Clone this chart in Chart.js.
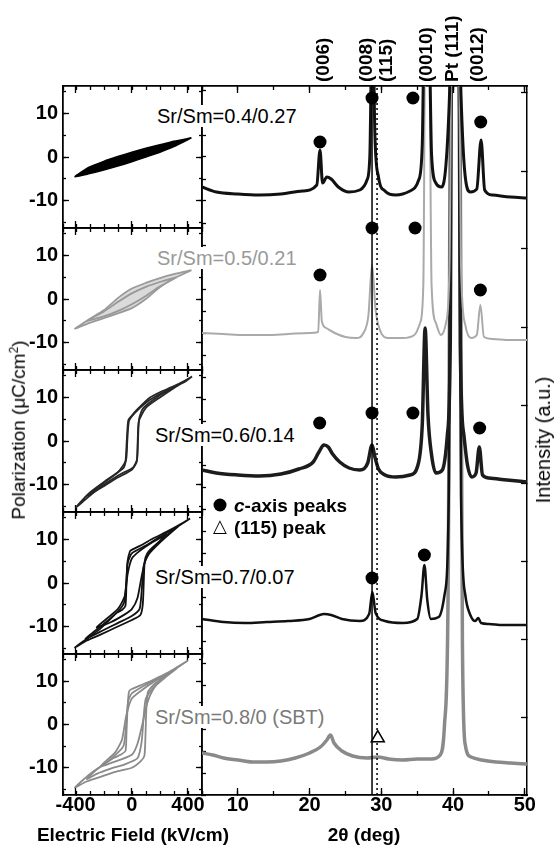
<!DOCTYPE html>
<html>
<head>
<meta charset="utf-8">
<title>Sr/Sm P-E loops and XRD patterns</title>
<script src="https://cdn.jsdelivr.net/npm/chart.js@4.4.1/dist/chart.umd.min.js"></script>
<style>
  html, body { margin: 0; padding: 0; background: #fff; }
  #fig { position: relative; width: 557px; height: 846px; overflow: hidden;
         font-family: "Liberation Sans", Arial, Helvetica, sans-serif; color: #000; }
  #fig canvas { position: absolute; left: 0; top: 0; }
  .t { position: absolute; white-space: nowrap; line-height: 1; }
  .c { transform: translate(-50%, -50%); }
  .vt { transform: translate(-50%, -50%) rotate(-90deg); }
  .lab { font-size: 20px; background: #fff; padding: 1px 2px 1px 0; transform: translateY(-50%); }
  .leg { font-size: 19px; font-weight: bold; transform: translateY(-50%); }
  .dot { position: absolute; width: 13px; height: 13px; border-radius: 50%; background: #000; transform: translate(-50%, -50%); }
</style>
</head>
<body>
<div id="fig">
  <canvas id="pe0" width="557" height="846"></canvas>
  <canvas id="pe1" width="557" height="846"></canvas>
  <canvas id="pe2" width="557" height="846"></canvas>
  <canvas id="pe3" width="557" height="846"></canvas>
  <canvas id="pe4" width="557" height="846"></canvas>
  <canvas id="xrd" width="557" height="846"></canvas>

  <div class="t vt" style="left:18px;top:430px;font-size:19px;">Polarization (μC/cm<sup style="font-size:12px;">2</sup>)</div>
  <div class="t vt" style="left:543px;top:440px;font-size:20px;">Intensity (a.u.)</div>
  <div class="t c" style="left:133px;top:834px;font-size:19px;font-weight:bold;">Electric Field (kV/cm)</div>
  <div class="t c" style="left:364px;top:834px;font-size:19px;font-weight:bold;">2θ (deg)</div>

  <div class="t lab" style="left:157px;top:116px;color:#000;">Sr/Sm=0.4/0.27</div>
  <div class="t lab" style="left:157px;top:258px;color:#9a9a9a;">Sr/Sm=0.5/0.21</div>
  <div class="t lab" style="left:155px;top:435px;color:#000;">Sr/Sm=0.6/0.14</div>
  <div class="t lab" style="left:155px;top:577px;color:#000;">Sr/Sm=0.7/0.07</div>
  <div class="t lab" style="left:155px;top:717px;color:#7a7a7a;">Sr/Sm=0.8/0 (SBT)</div>

  <div class="dot" style="left:220px;top:505px;"></div>
  <div class="t leg" style="left:234px;top:505px;"><i>c</i>-axis peaks</div>
  <div class="t c" style="left:220px;top:526px;font-size:18px;font-family:'DejaVu Sans';">△</div>
  <div class="t leg" style="left:234px;top:527px;">(115) peak</div>
</div>
<script>
const FONT = '"Liberation Sans", Arial, Helvetica, sans-serif';
Chart.defaults.font.family = FONT;
Chart.defaults.color = '#000';

// ---- P-E hysteresis loops (E in kV/cm, P in uC/cm2), each loop closed ----
const E_MIN = -490, E_MAX = 500, P_MIN = -16.3, P_MAX = 16.3;

// Sr/Sm = 0.4/0.27
const pe1E = [425, 300, 200, 100, 0, -100, -200, -300, -405, -300, -200, -100, 0, 100, 200, 300, 425];
const pe1P = [4.4, 3.6, 2.8, 2.0, 1.1, 0.1, -1.0, -2.3, -4.5, -3.8, -3.0, -2.1, -1.1, 0.0, 1.1, 2.4, 4.4];

// Sr/Sm = 0.5/0.21
const pe2aE = [425, 300, 200, 100, 0, -100, -200, -300, -405, -300, -200, -100, 0, 100, 200, 300, 425];
const pe2aP = [6.6, 5.7, 4.8, 3.7, 2.4, 0.2, -2.6, -4.6, -6.8, -5.5, -4.4, -3.3, -2.1, 0.0, 2.7, 4.7, 6.6];
const pe2bE = [320, 200, 100, 0, -100, -200, -320, -200, -100, 0, 100, 200, 320];
const pe2bP = [5.0, 3.9, 2.8, 1.3, -0.7, -2.9, -5.0, -4.0, -2.8, -1.2, 0.7, 2.9, 5.0];

// Sr/Sm = 0.6/0.14
const pe3aE = [429, 380, 300, 200, 130, 37, 0, -25, -35, -45, -62, -177, -298, -397, -300, -226, -100, -62, 8, 37, 44, 52, 80, 200, 300, 379, 429];
const pe3aP = [14.8, 13.9, 12.6, 11.2, 10.0, 7.2, 5.8, 4.8, 0.5, -4.8, -6.3, -8.9, -11.8, -15.2, -12.6, -10.6, -8.0, -7.3, -6.1, -4.3, 0.0, 5.0, 7.5, 10.5, 12.3, 13.6, 14.8];
const pe3bE = [330, 200, 100, 20, -20, -32, -42, -100, -200, -330, -200, -100, 0, 35, 42, 50, 100, 200, 330];
const pe3bP = [12.8, 10.8, 8.8, 6.4, 4.6, 0.0, -4.5, -7.2, -9.6, -12.8, -10.4, -8.4, -6.6, -4.8, 0.0, 4.5, 7.6, 10.0, 12.8];

// Sr/Sm = 0.7/0.07
const pe4aE = [415, 330, 250, 150, 80, 0, -13, -30, -38, -45, -70, -106, -160, -227, -320, -405, -320, -227, -100, 0, 60, 78, 85, 92, 110, 150, 250, 330, 415];
const pe4aP = [14.8, 13.2, 11.8, 10.2, 8.9, 7.6, 7.3, 5.0, 0.0, -5.2, -6.2, -6.8, -8.5, -10.6, -12.8, -14.8, -13.2, -11.9, -10.0, -8.5, -7.4, -5.0, 0.0, 5.0, 6.8, 8.2, 11.0, 13.0, 14.8];
const pe4bE = [330, 200, 100, 0, -30, -40, -55, -100, -200, -330, -200, -100, 0, 55, 70, 85, 120, 200, 330];
const pe4bP = [13.0, 10.6, 8.6, 6.8, 4.5, 0.0, -4.5, -6.6, -9.4, -12.8, -10.8, -9.2, -7.6, -6.0, -2.0, 4.0, 6.6, 9.3, 13.0];
const pe4cE = [250, 150, 50, 0, -30, -50, -100, -250, -150, -50, 0, 40, 70, 100, 150, 250];
const pe4cP = [11.2, 9.4, 7.2, 5.6, 2.0, -3.0, -6.0, -10.2, -9.0, -7.2, -6.0, -3.5, 1.5, 5.5, 8.0, 11.2];

// Sr/Sm = 0.8/0 (SBT)
const pe5aE = [400, 330, 258, 150, 80, 0, -20, -30, -38, -45, -80, -127, -200, -277, -350, -405, -330, -250, -177, -100, 0, 66, 90, 98, 104, 115, 150, 208, 300, 400];
const pe5aP = [14.8, 13.4, 12.0, 10.3, 9.3, 8.2, 7.6, 4.0, -2.0, -6.1, -7.0, -7.7, -9.3, -10.9, -12.9, -14.6, -13.3, -12.4, -11.6, -10.8, -10.0, -8.4, -7.2, -2.0, 4.0, 7.5, 9.0, 10.5, 12.6, 14.8];
const pe5bE = [320, 200, 100, 0, -25, -40, -60, -150, -250, -320, -250, -150, -50, 40, 70, 85, 100, 150, 250, 320];
const pe5bP = [13.0, 10.8, 9.2, 7.2, 5.5, 0.0, -5.0, -8.0, -10.4, -12.6, -11.4, -10.2, -9.2, -7.8, -4.0, 2.0, 6.0, 8.4, 11.2, 13.0];
const pe5cE = [220, 100, 0, -40, -70, -120, -220, -120, 0, 40, 75, 110, 150, 220];
const pe5cP = [11.2, 8.6, 6.0, 2.0, -3.5, -6.5, -9.6, -8.6, -7.0, -4.5, 0.0, 5.0, 8.0, 11.2];

// ---- XRD patterns (2theta in deg, intensity in a.u. with stacking offset) ----
const T_MIN = 5, T_MAX = 50.3, I_MIN = 0, I_MAX = 709;

const tth1 = [5, 7, 10, 13, 16, 19, 21, 21.45, 21.8, 22.4, 23, 24, 25.5, 27, 28, 28.4, 28.75, 29.1, 29.6, 30.5, 32, 34, 35.2, 35.7, 36.05, 36.55, 37.0, 37.6, 38.4, 39.0, 39.5, 39.85, 40.75, 41.1, 41.6, 42.4, 43.3, 43.9, 44.4, 45.5, 48, 50.3];
const int1 = [608, 603, 601, 600, 601, 604, 610, 645, 612, 618, 616, 608, 603, 605, 615, 640, 800, 660, 618, 604, 600, 604, 615, 650, 800, 800, 640, 612, 608, 630, 700, 800, 800, 700, 625, 603, 606, 655, 605, 600, 598, 597];

const tth2 = [5, 8, 11, 14, 17, 20, 21.2, 21.45, 21.7, 22.3, 23.5, 25, 26.5, 27.5, 28.2, 28.7, 29.2, 29.8, 31, 33, 34.6, 35.4, 35.85, 36.15, 36.6, 37.0, 37.6, 38.3, 39.0, 39.5, 39.85, 40.75, 41.1, 41.7, 42.5, 43.3, 43.8, 44.3, 45.5, 48, 50.3];
const int2 = [462, 461, 460, 460, 461, 462, 463, 505, 474, 467, 462, 458, 457, 462, 480, 530, 485, 465, 457, 457, 460, 472, 510, 800, 800, 510, 472, 460, 472, 530, 800, 800, 530, 470, 457, 460, 490, 458, 456, 455, 455];

const tth3 = [5, 7, 10, 13, 16, 18.5, 20.5, 21.3, 22.0, 22.6, 23.2, 24.2, 25.5, 27, 28.1, 28.7, 29.1, 29.6, 30.5, 32, 34, 35.1, 35.7, 36.1, 36.5, 37.0, 37.6, 38.5, 39.2, 39.6, 39.85, 40.75, 41.0, 41.5, 42.0, 42.6, 43.2, 43.65, 44.1, 45, 47.5, 50.3];
const int3 = [325, 322, 320, 319, 321, 326, 333, 343, 350, 348, 341, 333, 327, 325, 332, 350, 338, 326, 320, 318, 320, 330, 370, 467, 380, 340, 322, 325, 360, 450, 900, 900, 450, 360, 330, 318, 322, 348, 320, 317, 315, 313];

const tth4 = [5, 8, 11, 14, 17, 20, 22, 23, 24.5, 27, 28.3, 28.75, 29.2, 30.5, 33, 35.0, 35.6, 36.0, 36.4, 36.9, 38.0, 38.8, 39.4, 39.8, 40.7, 41.1, 41.7, 42.4, 43.1, 43.5, 43.9, 45, 47, 50.3];
const int4 = [176, 173, 172, 173, 174, 176, 181, 180, 176, 174, 181, 203, 182, 174, 172, 176, 200, 230, 195, 176, 178, 200, 300, 900, 900, 300, 200, 180, 174, 177, 172, 171, 170, 170];

const tth5 = [5, 6.5, 8, 10, 12, 14, 16, 18, 20, 21.5, 22.4, 22.9, 23.4, 24.5, 26, 28, 29.5, 31, 33, 35, 37, 38.2, 38.8, 39.3, 39.8, 40.8, 41.3, 41.7, 42.5, 44, 46, 48, 50.3];
const int5 = [42, 40, 37, 35, 33, 33, 34, 37, 42, 48, 55, 60, 52, 44, 39, 37, 38, 36, 35, 36, 36, 40, 70, 200, 900, 900, 150, 50, 38, 35, 33, 32, 31];

// c-axis peak markers and the (115) marker
const dotX = [21.45, 28.7, 34.4, 43.85, 21.45, 28.7, 34.7, 43.8, 21.4, 28.7, 34.4, 43.7, 28.7, 36.0];
const dotY = [653, 697, 697, 673, 520, 567, 567, 505, 372, 382, 382, 367, 217, 240];
const triX = [29.5];
const triY = [57];

// (008) solid and (115) dotted reference lines
const refX = [28.7, 29.4];

const peakNames = ['(006)', '(008)', '(115)', '(0010)', 'Pt (111)', '(0012)'];
const peakPos = [22.0, 28.0, 30.7, 36.3, 40.0, 43.4];

// ---- layout ----
const W = 557, H = 846;
const X_LEFT = 63, X_MID = 202, X_RIGHT = 527;
const Y_EDGES = [86, 228, 370, 512, 654, 795];
const Y_LABEL_W = 45, X_LABEL_H = 30;

const pts = (xs, ys) => xs.map((x, i) => ({x: x, y: ys[i]}));

// inward ticks; an axis with labels gets a real box (labels are clipped to it), others are 0 wide
function axis(position, min, max, step, len, pad) {
  const vertical = position === 'left' || position === 'right';
  const labelled = pad !== undefined;
  const size = labelled ? (vertical ? Y_LABEL_W : X_LABEL_H) : 0;
  const ticks = {display: false, stepSize: step, includeBounds: false, autoSkip: false, maxRotation: 0, minRotation: 0};
  if (labelled) {
    Object.assign(ticks, {display: true, color: '#000', padding: pad, font: {family: FONT, size: 20, weight: 'bold'}});
  }
  return {
    type: 'linear', axis: vertical ? 'y' : 'x', position: position, min: min, max: max,
    weight: labelled ? 1 : 0,
    afterFit: s => { if (vertical) s.width = size; else s.height = size; },
    border: {display: true, color: '#000', width: 1.5},
    grid: {display: true, drawOnChartArea: false, drawTicks: true, tickLength: -len, tickWidth: 1.3, tickColor: '#000'},
    ticks: ticks
  };
}

function baseOptions(area, labelLeft, labelBottom, scales) {
  return {
    responsive: false, animation: false, devicePixelRatio: 1, events: [],
    layout: {padding: {
      left: area[0] - (labelLeft ? Y_LABEL_W : 0), top: area[1],
      right: W - area[2], bottom: H - area[3] - (labelBottom ? X_LABEL_H : 0)
    }},
    plugins: {legend: {display: false}, tooltip: {enabled: false}},
    elements: {point: {radius: 0}},
    scales: scales
  };
}

// ---- left column: P-E loops ----
const peLoops = [
  [[pe1E, pe1P]],
  [[pe2aE, pe2aP], [pe2bE, pe2bP]],
  [[pe3aE, pe3aP], [pe3bE, pe3bP]],
  [[pe4aE, pe4aP], [pe4bE, pe4bP], [pe4cE, pe4cP]],
  [[pe5aE, pe5aP], [pe5bE, pe5bP], [pe5cE, pe5cP]]
];
const peColors = ['#000', '#9a9a9a', '#262626', '#111', '#8a8a8a'];
const peFills = ['#000', 'rgba(150,150,150,0.35)', null, null, null];

peLoops.forEach((loops, i) => {
  const last = i === peLoops.length - 1;
  new Chart(document.getElementById('pe' + i), {
    type: 'line',
    data: {datasets: loops.map((l, k) => ({
      data: pts(l[0], l[1]),
      borderColor: peColors[i],
      backgroundColor: peFills[i] || peColors[i],
      borderWidth: i === 0 ? 1.5 : 1.8,
      fill: (k === 0 && peFills[i]) ? 'shape' : false,
      tension: 0.2, pointRadius: 0
    }))},
    options: baseOptions([X_LEFT, Y_EDGES[i], X_MID, Y_EDGES[i + 1]], true, last, {
      x: axis('bottom', E_MIN, E_MAX, 400, 7, last ? 5 : undefined),
      xMinor: axis('bottom', E_MIN, E_MAX, 100, 4),
      xTop: axis('top', E_MIN, E_MAX, 400, 7),
      xTopMinor: axis('top', E_MIN, E_MAX, 100, 4),
      y: axis('left', P_MIN, P_MAX, 10, 6, 11),
      yMinor: axis('left', P_MIN, P_MAX, 5, 3),
      yRight: axis('right', P_MIN, P_MAX, 10, 6),
      yRightMinor: axis('right', P_MIN, P_MAX, 5, 3)
    })
  });
});

// ---- right column: XRD ----
const peakLabelPlugin = {
  id: 'peakLabels',
  afterDraw(chart) {
    const ctx = chart.ctx, xs = chart.scales.x, y0 = chart.chartArea.top - 4;
    ctx.save();
    ctx.font = 'bold 19px ' + FONT;
    ctx.fillStyle = '#000';
    ctx.textAlign = 'left';
    ctx.textBaseline = 'middle';
    peakNames.forEach((name, i) => {
      ctx.save();
      ctx.translate(xs.getPixelForValue(peakPos[i]), y0);
      ctx.rotate(-Math.PI / 2);
      ctx.fillText(name, 0, 0);
      ctx.restore();
    });
    ctx.restore();
  }
};

const spectra = [[tth1, int1], [tth2, int2], [tth3, int3], [tth4, int4], [tth5, int5]];
const specColors = ['#111', '#aaaaaa', '#1c1c1c', '#111', '#8a8a8a'];
const specWidths = [3, 2, 3.5, 2.5, 3.5];

const xrdSets = [
  {data: pts(dotX, dotY), showLine: false, pointRadius: 6.5, pointBackgroundColor: '#000', pointBorderColor: '#000', pointBorderWidth: 0},
  {data: pts(triX, triY), showLine: false, pointStyle: 'triangle', pointRadius: 7.5, pointBackgroundColor: '#fff', pointBorderColor: '#000', pointBorderWidth: 1.5}
];
refX.forEach((x, i) => xrdSets.push({
  data: [{x: x, y: I_MIN}, {x: x, y: I_MAX}],
  borderColor: '#000', borderWidth: 1.5, borderDash: i ? [2, 3] : [], pointRadius: 0
}));
spectra.forEach((s, i) => xrdSets.push({
  data: pts(s[0], s[1]),
  borderColor: specColors[i], borderWidth: specWidths[i],
  cubicInterpolationMode: 'monotone', pointRadius: 0, borderJoinStyle: 'round'
}));

new Chart(document.getElementById('xrd'), {
  type: 'line',
  data: {datasets: xrdSets},
  options: baseOptions([X_MID, Y_EDGES[0], X_RIGHT, Y_EDGES[5]], false, true, {
    x: axis('bottom', T_MIN, T_MAX, 10, 7, 5),
    xMinor: axis('bottom', T_MIN, T_MAX, 5, 4),
    xTop: axis('top', T_MIN, T_MAX, 10, 7),
    xTopMinor: axis('top', T_MIN, T_MAX, 5, 4),
    y: axis('left', I_MIN, I_MAX, 22, 4),
    yRight: axis('right', I_MIN, I_MAX, 78, 6)
  }),
  plugins: [peakLabelPlugin]
});
</script>
</body>
</html>
